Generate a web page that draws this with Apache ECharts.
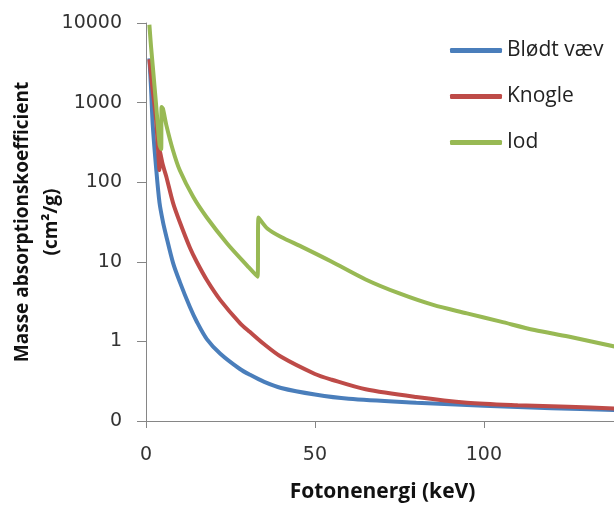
<!DOCTYPE html>
<html lang="da">
<head>
    <meta charset="utf-8">
    <meta name="viewport" content="width=device-width, initial-scale=1"/>
    <style>
        html, body { margin: 0; padding: 0; background: #fff; }
        #chart { width: 614px; height: 505px; }
    </style>
</head>
<body>
<div id="chart"></div>
<script type="text/javascript" src="https://cdn.jsdelivr.net/npm/echarts@6/dist/echarts.min.js"></script>
<script type="text/javascript">

    // Fotonenergi (keV) og masseabsorptionskoefficient (cm2/g)
    var tissueEnergy = [1, 1.5, 2, 3, 4, 5, 6, 8, 10, 13, 15, 18, 22, 27.8, 30.8, 35, 40, 50, 60, 80, 100, 120, 140];
    var tissueValues = [3600, 1500, 520, 150, 55, 32, 21, 9.7, 5.6, 2.7, 1.78, 1.07, 0.7, 0.45, 0.38, 0.31, 0.26, 0.215, 0.19, 0.17, 0.155, 0.145, 0.137];

    var boneEnergy = [1, 1.5, 2, 3, 4, 4.05, 5, 6, 8, 10, 13, 15, 18, 22, 27.8, 30.8, 35, 40, 50, 55, 65, 80, 95, 110, 125, 140];
    var boneValues = [3500, 2200, 1400, 600, 142, 253, 164, 118, 55, 31.6, 15, 10, 5.9, 3.3, 1.7, 1.31, 0.92, 0.64, 0.39, 0.33, 0.25, 0.2, 0.17, 0.158, 0.151, 0.143];

    var iodineEnergy = [1, 1.5, 2, 3, 4, 4.5, 4.6, 5, 6, 8, 10, 14, 18, 24, 30, 33.0, 33.3, 36, 40, 46, 55, 65, 75, 85, 95, 105, 115, 125, 140];
    var iodineValues = [9500, 5000, 2880, 930, 300, 260, 880, 840, 525, 250, 141, 65, 36, 17, 8.9, 6.5, 36, 26, 20.5, 15.5, 10, 6.0, 4.0, 2.87, 2.25, 1.77, 1.39, 1.15, 0.84];

    var seriesNames = ['Blødt væv', 'Knogle', 'Iod'];
    var seriesColors = ['#4a7ebb', '#be4b48', '#98b954'];

    function pairs(xs, ys) {
        return xs.map(function (x, i) { return [x, ys[i]]; });
    }

    var dataSets = [
        pairs(tissueEnergy, tissueValues),
        pairs(boneEnergy, boneValues),
        pairs(iodineEnergy, iodineValues)
    ];

    var labelFont = 'DejaVu Sans';
    var titleFont = 'Open Sans';

    var option = {
        backgroundColor: '#fff',
        animation: false,
        grid: { left: 146, top: 23, bottom: 84, right: -5, outerBoundsMode: 'none', containLabel: false },
        legend: {
            orient: 'vertical',
            left: 450,
            top: 40,
            padding: 0,
            icon: 'roundRect',
            itemWidth: 52,
            itemHeight: 5,
            itemGap: 25,
            data: seriesNames,
            textStyle: { fontFamily: titleFont, fontSize: 21, color: '#222' }
        },
        xAxis: {
            type: 'value',
            min: 0,
            max: 140,
            interval: 50,
            name: 'Fotonenergi (keV)',
            nameLocation: 'middle',
            nameGap: 61,
            nameMoveOverlap: false,
            nameTextStyle: { fontFamily: titleFont, fontWeight: 'bold', fontSize: 21, color: '#111' },
            axisLine: { lineStyle: { color: '#868686', width: 1 } },
            axisTick: { show: true, length: 7, lineStyle: { color: '#868686' } },
            axisLabel: {
                margin: 25,
                showMaxLabel: false,
                fontFamily: labelFont,
                fontSize: 19,
                color: '#333',
                formatter: function (v) { return v % 50 === 0 ? String(v) : ''; }
            },
            splitLine: { show: false }
        },
        yAxis: {
            type: 'log',
            logBase: 10,
            min: 0.1,
            max: 10000,
            name: 'Masse absorptionskoefficient\n(cm²/g)',
            nameLocation: 'middle',
            nameGap: 80,
            nameRotate: 90,
            nameMoveOverlap: false,
            nameTextStyle: {
                fontFamily: titleFont,
                fontWeight: 'bold',
                fontSize: 19,
                color: '#111',
                lineHeight: 29
            },
            axisLine: { show: true, lineStyle: { color: '#868686', width: 1 } },
            axisTick: { show: true, length: 9, lineStyle: { color: '#868686' } },
            axisLabel: {
                margin: 24,
                fontFamily: labelFont,
                fontSize: 19,
                color: '#333',
                formatter: function (v) { return v < 1 ? '0' : String(Math.round(v)); }
            },
            splitLine: { show: false },
            minorTick: { show: false }
        },
        series: seriesNames.map(function (name, i) {
            return {
                name: name,
                type: 'line',
                data: dataSets[i],
                symbol: 'none',
                showSymbol: false,
                smooth: 0.3,
                color: seriesColors[i],
                lineStyle: { width: 4, color: seriesColors[i] }
            };
        })
    };

    var myChart = echarts.init(document.getElementById('chart'));
    myChart.setOption(option);

</script>
</body>
</html>
